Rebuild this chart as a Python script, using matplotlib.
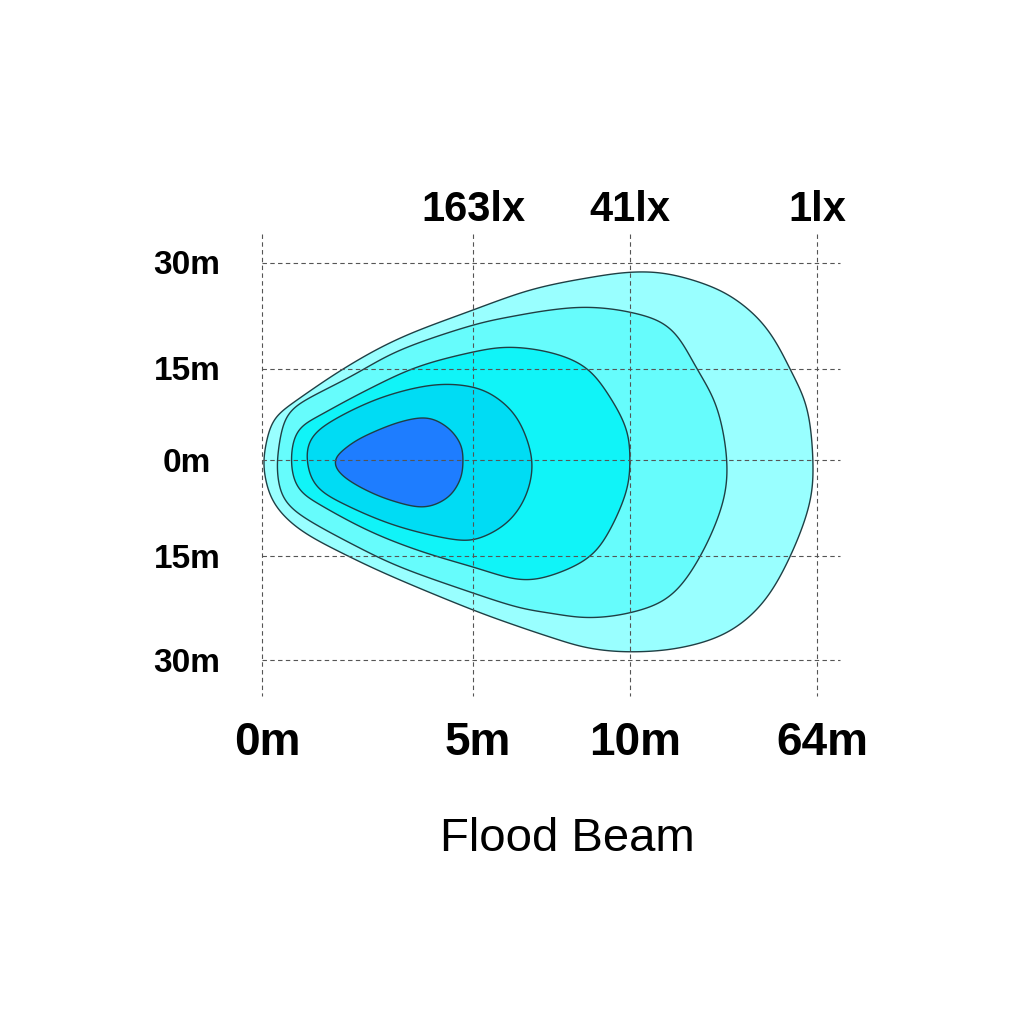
import numpy as np
import matplotlib
matplotlib.use("Agg")
from matplotlib import pyplot as plt

plt.rcParams['font.family'] = ['Liberation Sans', 'DejaVu Sans']

# grid, in chart units (x from the 0m line, y from the centre line, up = +)
distance_labels = ['0m', '5m', '10m', '64m']
distance_pos = [0, 211, 368, 555]
lux_labels = ['163lx', '41lx', '1lx']
lux_pos = [211, 368, 555]
width_labels = ['30m', '15m', '0m', '15m', '30m']
width_pos = [197, 91, 0, -96, -200]

# isolux outlines, outer (1lx) to inner
outer_x = [1, 10, 21, 81, 138, 211, 258, 288, 325, 368, 408, 458, 491, 511, 528, 545,
           551, 548, 528, 501, 465, 418, 368, 325, 288, 258, 211, 138, 88, 38, 11, 3]
outer_y = [0, 40, 50, 91, 122, 150, 167, 175, 182, 188, 186, 170, 147, 123, 91, 53,
           0, -43, -97, -143, -173, -188, -192, -188, -177, -167, -150, -120, -97, -70, -43, -17]

ring2_x = [15, 23, 38, 88, 138, 211, 258, 288, 325, 368, 408, 435, 455, 465,
           461, 438, 408, 368, 325, 288, 258, 211, 138, 88, 41, 21, 16]
ring2_y = [0, 43, 57, 83, 110, 135, 145, 150, 153, 148, 133, 91, 53, 0,
           -43, -97, -137, -153, -158, -153, -148, -133, -107, -83, -57, -40, -20]

ring3_x = [29, 35, 55, 105, 155, 211, 248, 291, 325, 348, 365, 368,
           365, 348, 328, 291, 258, 211, 155, 105, 55, 35]
ring3_y = [0, 30, 43, 70, 93, 108, 113, 107, 92, 63, 30, 0,
           -30, -70, -97, -115, -120, -107, -90, -70, -43, -28]

ring4_x = [45, 50, 75, 121, 171, 211, 238, 258, 270, 265, 248, 221, 195, 138, 88, 55]
ring4_y = [0, 23, 42, 63, 75, 73, 60, 37, 0, -33, -60, -77, -80, -67, -47, -27]

core_x = [73, 85, 105, 138, 165, 185, 198, 201, 198, 185, 161, 128, 98, 78]
core_y = [0, 13, 25, 38, 42, 33, 17, 0, -20, -38, -47, -40, -27, -13]

rings = [(outer_x, outer_y), (ring2_x, ring2_y), (ring3_x, ring3_y),
         (ring4_x, ring4_y), (core_x, core_y)]
colors = ['#99ffff', '#66fcfc', '#10f4f8', '#00dcf4', '#1e7dff']
blur = [12, 12, 10, 7, 4]   # smoothing width in px per outline


def smooth_closed(xs, ys, sigma_px, n=30):
    # periodic catmull-rom through the traced points, then a light
    # circular gaussian pass (by arc length) to take the kinks out
    p = np.column_stack([xs, ys]).astype(float)
    m = len(p)
    t = np.linspace(0, 1, n, endpoint=False)[:, None]
    segs = []
    for i in range(m):
        p0, p1, p2, p3 = p[i - 1], p[i], p[(i + 1) % m], p[(i + 2) % m]
        segs.append(0.5 * ((2 * p1) + (-p0 + p2) * t
                           + (2 * p0 - 5 * p1 + 4 * p2 - p3) * t ** 2
                           + (-p0 + 3 * p1 - 3 * p2 + p3) * t ** 3))
    d = np.vstack(segs)
    d = np.vstack([d, d[:1]])
    s = np.concatenate([[0], np.cumsum(np.hypot(*np.diff(d, axis=0).T))])
    npts = int(s[-1])
    su = np.linspace(0, s[-1], npts, endpoint=False)
    rx = np.interp(su, s, d[:, 0])
    ry = np.interp(su, s, d[:, 1])
    k = np.arange(-3 * sigma_px, 3 * sigma_px + 1)
    w = np.exp(-0.5 * (k / sigma_px) ** 2)
    w /= w.sum()
    sx = sum(wi * np.roll(rx, ki) for ki, wi in zip(k, w))
    sy = sum(wi * np.roll(ry, ki) for ki, wi in zip(k, w))
    return np.append(sx, sx[0]), np.append(sy, sy[0])


fig = plt.figure(figsize=(10.24, 10.24), dpi=100)
ax = fig.add_axes([0, 0, 1, 1])
ax.set_xlim(-262, 762)
ax.set_ylim(-564, 460)
ax.axis('off')

# grid
grid_kw = dict(color='#555555', lw=0.8, dashes=(4, 3), zorder=3)
for xp in distance_pos:
    ax.plot([xp, xp], [226, -236], **grid_kw)
for yp in width_pos:
    ax.plot([0, 578], [yp, yp], **grid_kw)

for (xs, ys), c, b in zip(rings, colors, blur):
    sx, sy = smooth_closed(xs, ys, b)
    ax.fill(sx, sy, facecolor=c, edgecolor='#1f3f44', lw=1.0, zorder=2)

for lab, xp in zip(lux_labels, lux_pos):
    ax.text(xp, 250, lab, ha='center', va='center', fontsize=30, fontweight='bold')
for lab, xp in zip(distance_labels, distance_pos):
    ax.text(xp + 5, -283, lab, ha='center', va='center', fontsize=33, fontweight='bold')
for lab, yp in zip(width_labels, width_pos):
    ax.text(-75, yp - 3, lab, ha='center', va='center', fontsize=24, fontweight='bold')

ax.text(305, -379, 'Flood Beam', ha='center', va='center', fontsize=34)

fig.savefig('out.png', dpi=100, facecolor='white')
